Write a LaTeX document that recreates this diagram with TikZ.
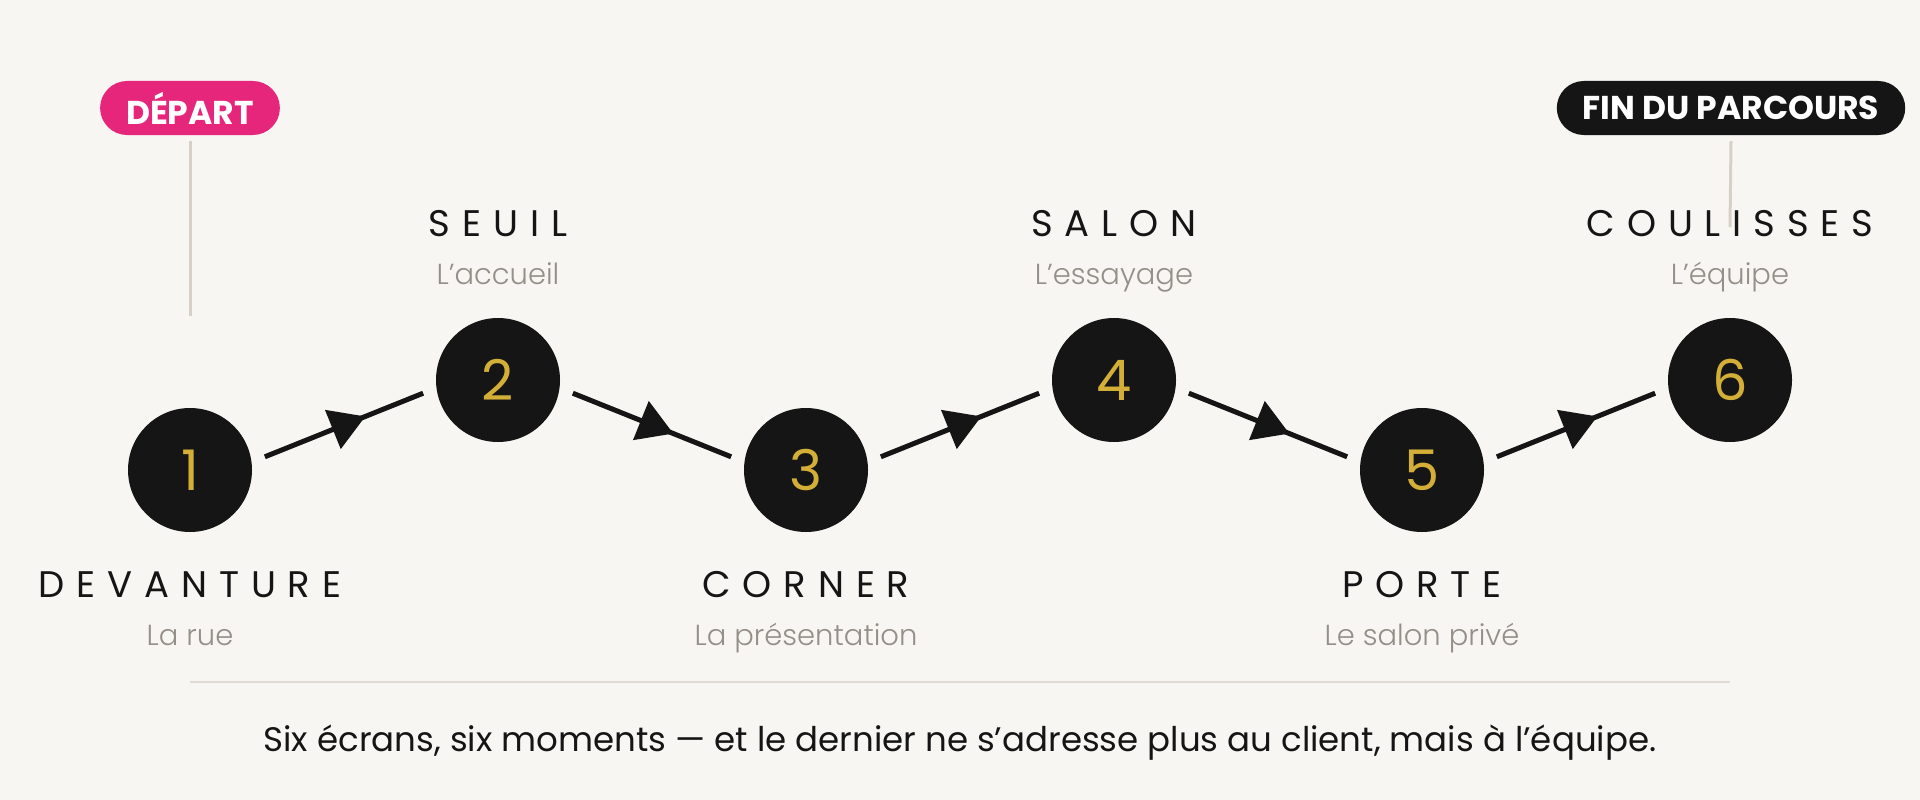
\documentclass[tikz,border=0pt]{standalone}
\usepackage{fontspec}
\setmainfont{Poppins}
\IfFontExistsTF{Poppins Light}{\newfontfamily\lightf{Poppins Light}}{\newfontfamily\lightf{Poppins}}
\usetikzlibrary{arrows.meta,decorations.markings}
\definecolor{bg}{HTML}{F7F6F2}
\definecolor{ink}{HTML}{151515}
\definecolor{gold}{HTML}{D4AF37}
\definecolor{pink}{HTML}{E5267B}
\definecolor{subc}{HTML}{948F88}
\definecolor{leadc}{HTML}{D6D0C6}
\definecolor{sepc}{HTML}{DEDAD3}
\begin{document}
\begin{tikzpicture}[x=1pt,y=-1pt,
 stepc/.style={circle,fill=ink,minimum size=124pt,inner sep=0pt,outer sep=14pt,text=gold,font=\fontsize{56}{56}\selectfont},
 title/.style={anchor=base,text=ink,font=\fontsize{37}{37}\selectfont\addfontfeature{LetterSpace=32}},
 subt/.style={anchor=base,text=subc,font=\lightf\fontsize{29}{29}\selectfont},
 pill/.style={rounded corners=27pt,minimum height=54pt,inner xsep=26pt,inner ysep=0pt,text=white,font=\bfseries\fontsize{33}{33}\selectfont},
 leader/.style={draw=leadc,line width=3pt},
 sepline/.style={draw=sepc,line width=2pt},
 flow/.style={line width=5pt,color=ink,postaction={decorate},decoration={markings,mark=at position 0.5 with {\arrow[xshift=23pt]{Triangle[length=35pt,width=41pt]}}}}]
\useasboundingbox (0,0) rectangle (1920,800);
\fill[bg] (0,0) rectangle (1920,800);
% pills
\node[pill,fill=pink] (depart) at (190,108) {DÉPART};
\node[pill,fill=ink] (fin) at (1731,108) {FIN DU PARCOURS};
\coordinate (dl) at (190,316);
\coordinate (fl) at (1730,227);
\draw[leader] ([yshift=-6pt]depart.south) -- (dl);
\draw[leader] ([yshift=-6pt]fin.south) -- (fl);
% steps
\node[stepc] (c1) at (190,470) {1};
\node[stepc] (c2) at (498,380) {2};
\node[stepc] (c3) at (806,470) {3};
\node[stepc] (c4) at (1114,380) {4};
\node[stepc] (c5) at (1422,470) {5};
\node[stepc] (c6) at (1730,380) {6};
% connectors
\draw[flow] (c1.10) -- (c2.190);
\draw[flow] (c2.-10) -- (c3.170);
\draw[flow] (c3.10) -- (c4.190);
\draw[flow] (c4.-10) -- (c5.170);
\draw[flow] (c5.10) -- (c6.190);
% labels
\node[title] (t1) at (190,597) {DEVANTURE};
\node[subt] (s1) at (190,645) {La rue};
\node[title] (t2) at (498,236) {SEUIL};
\node[subt] (s2) at (498,284) {L’accueil};
\node[title] (t3) at (806,597) {CORNER};
\node[subt] (s3) at (806,645) {La présentation};
\node[title] (t4) at (1114,236) {SALON};
\node[subt] (s4) at (1114,284) {L’essayage};
\node[title] (t5) at (1422,597) {PORTE};
\node[subt] (s5) at (1422,645) {Le salon privé};
\node[title] (t6) at (1730,236) {COULISSES};
\node[subt] (s6) at (1730,284) {L’équipe};
% footer
\coordinate (sa) at (190,682);
\coordinate (sb) at (1730,682);
\draw[sepline] (sa) -- (sb);
\node[anchor=base,text=ink,font=\fontsize{34}{34}\selectfont] (foot) at (960,751) {Six écrans, six moments — et le dernier ne s’adresse plus au client, mais à l’équipe.};
\end{tikzpicture}
\end{document}
